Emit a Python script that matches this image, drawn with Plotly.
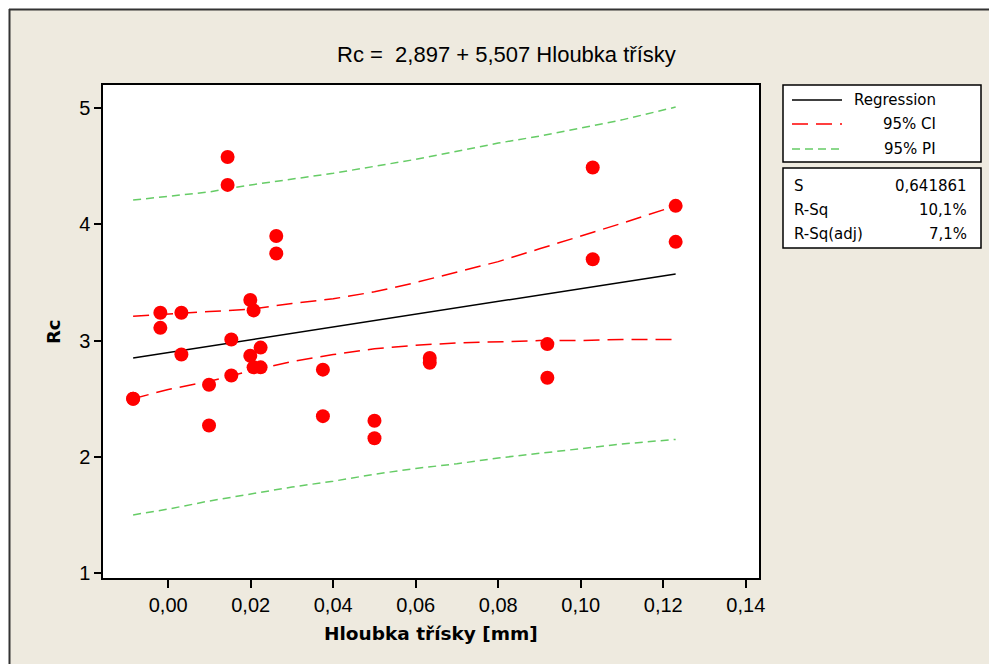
# -*- coding: utf-8 -*-
"""
Fitted line plot (Minitab style) — Rc vs. Hloubka třísky.
"""
import plotly.graph_objects as go

# observed points
hloubka = [-0.0085, -0.0085, -0.0019, -0.0019, 0.0032, 0.0032, 0.0099, 0.0099,
           0.0144, 0.0144, 0.0153, 0.0153, 0.0199, 0.0199, 0.0207, 0.0207,
           0.0224, 0.0224, 0.0262, 0.0262, 0.0375, 0.0375, 0.0500, 0.0500,
           0.0634, 0.0634, 0.0919, 0.0919, 0.1029, 0.1029, 0.1230, 0.1230]
rc = [2.50, 2.50, 3.24, 3.11, 3.24, 2.88, 2.62, 2.27,
      4.58, 4.34, 3.01, 2.70, 3.35, 2.87, 3.26, 2.77,
      2.94, 2.77, 3.90, 3.75, 2.75, 2.35, 2.31, 2.16,
      2.85, 2.81, 2.97, 2.68, 4.49, 3.70, 4.16, 3.85]

# fitted line and bands, read at these x positions
fit_x = [-0.0085, 0.0, 0.01, 0.02, 0.03, 0.04, 0.05, 0.06, 0.07, 0.08,
         0.09, 0.10, 0.11, 0.123]
fit_y = [2.850, 2.897, 2.952, 3.007, 3.062, 3.117, 3.172, 3.227, 3.282,
         3.338, 3.393, 3.448, 3.503, 3.574]
ci_hi = [3.21, 3.23, 3.25, 3.27, 3.32, 3.36, 3.42, 3.50, 3.59, 3.68,
         3.79, 3.90, 4.01, 4.16]
ci_lo = [2.50, 2.58, 2.65, 2.74, 2.82, 2.88, 2.93, 2.96, 2.98, 2.99,
         3.00, 3.00, 3.01, 3.01]
pi_hi = [4.21, 4.24, 4.28, 4.34, 4.39, 4.44, 4.50, 4.56, 4.63, 4.70,
         4.76, 4.83, 4.90, 5.01]
pi_lo = [1.50, 1.55, 1.62, 1.68, 1.74, 1.79, 1.85, 1.90, 1.94, 1.99,
         2.03, 2.07, 2.11, 2.15]

legend_items = [("Regression", "black", "solid"),
                ("95% CI", "#FF0000", "16px,8px"),
                ("95% PI", "#66CC66", "8px,5px")]
stats = [("S", "0,641861"), ("R-Sq", "10,1%"), ("R-Sq(adj)", "7,1%")]

title = "Rc =  2,897 + 5,507 Hloubka třísky"
x_title = "Hloubka třísky [mm]"
y_title = "Rc"

W, H = 989, 664
L, R, T, B = 103, 759, 85, 578
BEIGE = "#EEEADF"
FONT = "DejaVu Sans, Verdana, sans-serif"
TICKFONT = "Liberation Sans, Arial, sans-serif"


def px(x):
    return (x - L) / (R - L)


def py(y):
    return (B - y) / (B - T)


fig = go.Figure()
fig.add_trace(go.Scatter(x=fit_x, y=pi_hi, mode="lines",
                         line=dict(color="#66CC66", width=1.5, dash="8px,5px")))
fig.add_trace(go.Scatter(x=fit_x, y=pi_lo, mode="lines",
                         line=dict(color="#66CC66", width=1.5, dash="8px,5px")))
fig.add_trace(go.Scatter(x=fit_x, y=ci_hi, mode="lines",
                         line=dict(color="#FF0000", width=1.5, dash="16px,8px")))
fig.add_trace(go.Scatter(x=fit_x, y=ci_lo, mode="lines",
                         line=dict(color="#FF0000", width=1.5, dash="16px,8px")))
fig.add_trace(go.Scatter(x=fit_x, y=fit_y, mode="lines",
                         line=dict(color="black", width=1.5)))
fig.add_trace(go.Scatter(x=hloubka, y=rc, mode="markers",
                         marker=dict(color="#FF0000", size=14,
                                     line=dict(width=0))))

shapes = []
# white strip + frame of the graph window (kept inside the figure)
shapes.append(dict(type="rect", xref="paper", yref="paper",
                   x0=px(0), x1=px(W), y0=py(9), y1=py(0),
                   fillcolor="white", line_width=0, layer="below"))
shapes.append(dict(type="rect", xref="paper", yref="paper",
                   x0=px(0), x1=px(9), y0=py(H), y1=py(0),
                   fillcolor="white", line_width=0, layer="below"))
shapes.append(dict(type="line", xref="paper", yref="paper",
                   x0=px(9), x1=px(W), y0=py(9.5), y1=py(9.5),
                   line=dict(color="#333333", width=2)))
shapes.append(dict(type="line", xref="paper", yref="paper",
                   x0=px(9.5), x1=px(9.5), y0=py(9), y1=py(H),
                   line=dict(color="#333333", width=2)))

# legend and stats boxes
shapes.append(dict(type="rect", xref="paper", yref="paper",
                   x0=px(783), x1=px(981), y0=py(162), y1=py(85),
                   fillcolor="white", line=dict(color="black", width=1.5)))
shapes.append(dict(type="rect", xref="paper", yref="paper",
                   x0=px(783), x1=px(981), y0=py(248), y1=py(168),
                   fillcolor="white", line=dict(color="black", width=1.5)))

annotations = []
for i, (name, col, dash) in enumerate(legend_items):
    yy = [100, 124, 149][i]
    shapes.append(dict(type="line", xref="paper", yref="paper",
                       x0=px(792), x1=px(842), y0=py(yy), y1=py(yy),
                       line=dict(color=col, width=1.5, dash=dash)))
    annotations.append(dict(text=name, xref="paper", yref="paper",
                            x=px(938), y=py(yy), xanchor="right", yanchor="middle",
                            showarrow=False, font=dict(size=15, color="black", family=FONT)))
for i, (lab, val) in enumerate(stats):
    yy = [186, 210, 234][i]
    annotations.append(dict(text=lab, xref="paper", yref="paper",
                            x=px(792), y=py(yy), xanchor="left", yanchor="middle",
                            showarrow=False, font=dict(size=15, color="black", family=FONT)))
    annotations.append(dict(text=val, xref="paper", yref="paper",
                            x=px(969), y=py(yy), xanchor="right", yanchor="middle",
                            showarrow=False, font=dict(size=15, color="black", family=FONT)))

annotations.append(dict(text=title, xref="paper", yref="paper",
                        x=px(506), y=py(55), xanchor="center", yanchor="middle",
                        showarrow=False, font=dict(size=22, color="black", family=TICKFONT)))
annotations.append(dict(text="<b>" + x_title + "</b>", xref="paper", yref="paper",
                        x=px(431), y=py(633), xanchor="center", yanchor="middle",
                        showarrow=False, font=dict(size=18.5, color="black", family=FONT)))
annotations.append(dict(text="<b>" + y_title + "</b>", xref="paper", yref="paper",
                        x=px(53), y=py(332), xanchor="center", yanchor="middle",
                        textangle=-90, showarrow=False,
                        font=dict(size=18, color="black", family=FONT)))

fig.update_layout(
    width=W, height=H,
    margin=dict(l=L, r=W - R, t=T, b=H - B),
    paper_bgcolor=BEIGE, plot_bgcolor="white",
    separators=", ",
    showlegend=False,
    shapes=shapes, annotations=annotations,
    font=dict(family=TICKFONT, color="black"),
)
fig.update_xaxes(range=[-0.0158, 0.1432], tickvals=[0, 0.02, 0.04, 0.06, 0.08, 0.10, 0.12, 0.14],
                 tickformat=".2f", showgrid=False, zeroline=False,
                 showline=True, linecolor="black", linewidth=1.5, mirror=True,
                 ticks="outside", ticklen=8, tickcolor="black", tickwidth=1.5,
                 tickfont=dict(size=20, family=TICKFONT))
fig.update_yaxes(range=[0.957, 5.2], tickvals=[1, 2, 3, 4, 5],
                 showgrid=False, zeroline=False,
                 showline=True, linecolor="black", linewidth=1.5, mirror=True,
                 ticks="outside", ticklen=7, tickcolor="black", tickwidth=1.5,
                 tickfont=dict(size=20, family=TICKFONT))

# the page has a default 8px body margin and may scroll; drop both
fig.write_html("out.html", config={"displayModeBar": False},
               post_script="document.body.style.margin='0';"
                           "document.body.style.overflow='hidden';"
                           "document.documentElement.style.overflow='hidden';")
